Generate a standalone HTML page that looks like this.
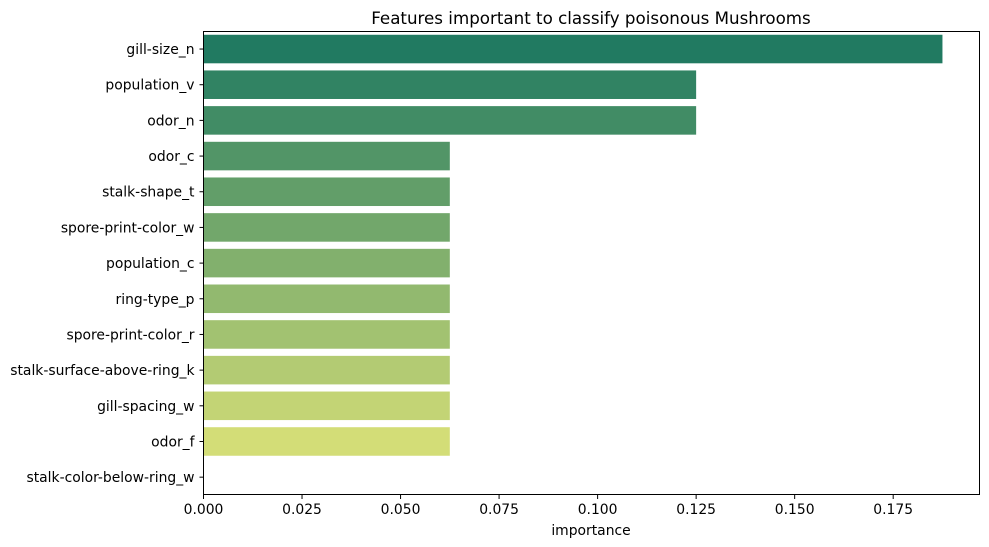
<!DOCTYPE html>
<html><head><meta charset="utf-8"><style>
body{margin:0;background:#fff;}
svg{display:block;font-family:"DejaVu Sans","Liberation Sans",sans-serif;}
</style></head><body>
<svg id="chart" width="989" height="547">
<text x="591" y="24" font-size="16.7" text-anchor="middle" fill="#000">Features important to classify poisonous Mushrooms</text>
<g id="bars"></g><g id="yaxis"></g><g id="xaxis"></g>
<rect x="203.5" y="31.5" width="776" height="463" fill="none" stroke="#000" stroke-width="1"/>
<text x="591" y="535" font-size="13.9" text-anchor="middle">importance</text>
</svg>
<script>
const categories=["gill-size_n","population_v","odor_n","odor_c","stalk-shape_t","spore-print-color_w","population_c","ring-type_p","spore-print-color_r","stalk-surface-above-ring_k","gill-spacing_w","odor_f","stalk-color-below-ring_w"];
const values=[0.1875,0.125,0.125,0.0625,0.0625,0.0625,0.0625,0.0625,0.0625,0.0625,0.0625,0.0625,0];
const xTicks=[0,0.025,0.05,0.075,0.1,0.125,0.15,0.175];
const tickLabels=["0.000","0.025","0.050","0.075","0.100","0.125","0.150","0.175"];
const NS="http://www.w3.org/2000/svg";
const x0=203.5,x1=979.5,y0=31.2,y1=495;
const xMax=0.1969;
const xs=v=>x0+v/xMax*(x1-x0);
const band=(y1-y0)/categories.length;
const ys=i=>y0+band*(i+0.5);
const c0=[0x21,0x7a,0x61],c1=[0xd3,0xdd,0x77];
function col(i){const t=Math.min(1,i/11);return "rgb("+c0.map((c,k)=>Math.round(c+(c1[k]-c)*t)).join(",")+")";}
const gb=document.getElementById('bars'),gy=document.getElementById('yaxis'),gx=document.getElementById('xaxis');
categories.forEach((c,i)=>{
 const r=document.createElementNS(NS,'rect');
 r.setAttribute('x',xs(0));r.setAttribute('y',ys(i)-band*0.4);
 r.setAttribute('width',Math.max(0,xs(values[i])-xs(0)));r.setAttribute('height',band*0.8);
 r.setAttribute('fill',col(i));
 
 
 gb.appendChild(r);
 const l=document.createElementNS(NS,'line');
 l.setAttribute('x1',x0-4);l.setAttribute('x2',x0);l.setAttribute('y1',ys(i));l.setAttribute('y2',ys(i));l.setAttribute('stroke','#000');
 
 
 gy.appendChild(l);
 const t=document.createElementNS(NS,'text');
 t.setAttribute('x',x0-9);t.setAttribute('y',ys(i)+5);t.setAttribute('text-anchor','end');t.setAttribute('font-size','13.9');
 t.textContent=c;
 
 
 gy.appendChild(t);
});
xTicks.forEach((v,i)=>{
 const l=document.createElementNS(NS,'line');
 l.setAttribute('x1',xs(v));l.setAttribute('x2',xs(v));l.setAttribute('y1',y1);l.setAttribute('y2',y1+4);l.setAttribute('stroke','#000');
 
 
 gx.appendChild(l);
 const t=document.createElementNS(NS,'text');
 t.setAttribute('x',xs(v));t.setAttribute('y',y1+19);t.setAttribute('text-anchor','middle');t.setAttribute('font-size','13.9');
 t.textContent=tickLabels[i];
 
 
 gx.appendChild(t);
});
</script>
</body></html>
